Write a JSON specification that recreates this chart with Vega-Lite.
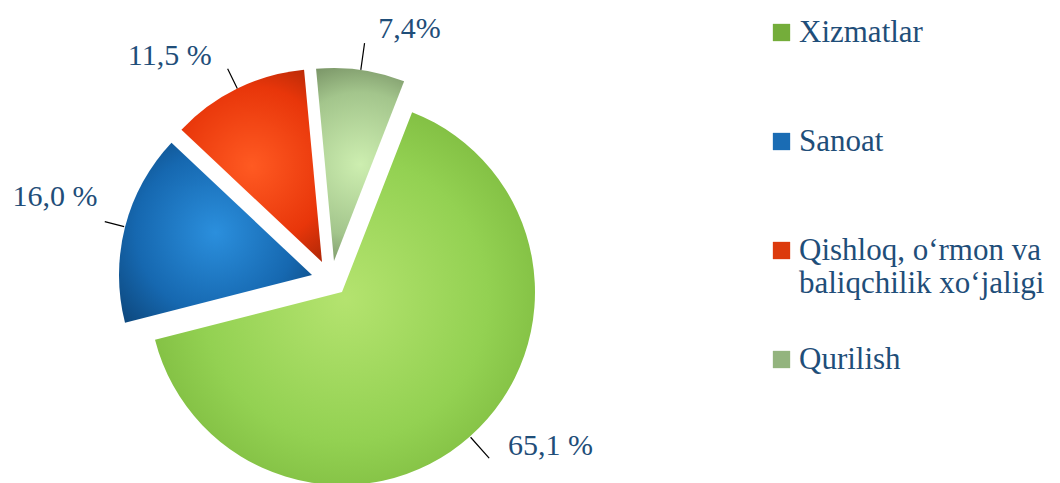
{
  "$schema": "https://vega.github.io/schema/vega-lite/v6.json",
  "autosize": "none",
  "width": 662,
  "height": 366,
  "padding": {"left": 0, "top": 97, "right": 398, "bottom": 20},
  "background": "white",
  "data": {
    "values": [
      {"k": "Xizmatlar", "v": 65.1, "label": "65,1 %"},
      {"k": "Sanoat", "v": 16.0, "label": "16,0 %"},
      {"k": "Qishloq, o‘rmon va baliqchilik  xo‘jaligi", "v": 11.5, "label": "11,5 %"},
      {"k": "Qurilish", "v": 7.4, "label": "7,4%"}
    ]
  },
  "transform": [
    {"window": [{"op": "row_number", "as": "i"}]},
    {"stack": "v", "groupby": [], "sort": [{"field": "i", "order": "ascending"}], "as": ["a0", "a1"]}
  ],
  "config": {"view": {"stroke": null}},
  "layer": [
    {
      "transform": [{"filter": "datum.k === 'Xizmatlar'"}],
      "mark": {"type": "arc", "outerRadius": 193, "xOffset": 11, "yOffset": 12},
      "encoding": {
        "theta": {"field": "a0", "type": "quantitative", "scale": {"domain": [0, 100], "range": [0.3718, 6.6550]}},
        "theta2": {"field": "a1"},
        "fill": {
          "field": "k", "type": "nominal",
          "scale": {"domain": ["Xizmatlar", "Sanoat", "Qishloq, o‘rmon va baliqchilik  xo‘jaligi", "Qurilish"], "range": ["#74ad3a", "#1a6cb4", "#dc3a0c", "#93b47e"]},
          "legend": {
            "title": null, "orient": "none", "legendX": 766, "legendY": -80,
            "symbolType": "square", "symbolSize": 300, "symbolStrokeWidth": 0,
            "labelFont": "Liberation Serif", "labelFontSize": 31, "labelColor": "#1F4E79",
            "labelLimit": 400, "labelOffset": 2, "rowPadding": 44, "padding": 0, "gridAlign": "all",
            "labelExpr": "datum.label === 'Qishloq, o‘rmon va baliqchilik  xo‘jaligi' ? ['Qishloq, o‘rmon va', 'baliqchilik  xo‘jaligi'] : datum.label"
          },
          "condition": {"test": "true", "value": {"gradient": "radial", "x1": 0.5, "y1": 0.5, "r1": 0, "x2": 0.5, "y2": 0.5, "r2": 0.75, "stops": [{"offset": 0, "color": "#b4e36f"}, {"offset": 0.5, "color": "#93d152"}, {"offset": 0.8, "color": "#7bb83d"}, {"offset": 1, "color": "#4a7420"}]}}
        }
      }
    },
    {
      "transform": [{"filter": "datum.k === 'Sanoat'"}],
      "mark": {"type": "arc", "outerRadius": 193, "xOffset": -19, "yOffset": -5},
      "encoding": {
        "theta": {"field": "a0", "type": "quantitative"},
        "theta2": {"field": "a1"},
        "fill": {
          "field": "k", "type": "nominal",
          "condition": {"test": "true", "value": {"gradient": "radial", "x1": 0.5, "y1": 0.5, "r1": 0, "x2": 0.5, "y2": 0.5, "r2": 0.75, "stops": [{"offset": 0, "color": "#2b8fdd"}, {"offset": 0.55, "color": "#1668b0"}, {"offset": 1, "color": "#0a3c6b"}]}}
        }
      }
    },
    {
      "transform": [{"filter": "datum.k === 'Qishloq, o‘rmon va baliqchilik  xo‘jaligi'"}],
      "mark": {"type": "arc", "outerRadius": 193, "xOffset": -9, "yOffset": -18},
      "encoding": {
        "theta": {"field": "a0", "type": "quantitative"},
        "theta2": {"field": "a1"},
        "fill": {
          "field": "k", "type": "nominal",
          "condition": {"test": "true", "value": {"gradient": "radial", "x1": 0.5, "y1": 0.5, "r1": 0, "x2": 0.5, "y2": 0.5, "r2": 0.75, "stops": [{"offset": 0, "color": "#ff5a22"}, {"offset": 0.55, "color": "#e8360a"}, {"offset": 1, "color": "#8a1e04"}]}}
        }
      }
    },
    {
      "transform": [{"filter": "datum.k === 'Qurilish'"}],
      "mark": {"type": "arc", "outerRadius": 193, "xOffset": 3, "yOffset": -19},
      "encoding": {
        "theta": {"field": "a0", "type": "quantitative"},
        "theta2": {"field": "a1"},
        "fill": {
          "field": "k", "type": "nominal",
          "condition": {"test": "true", "value": {"gradient": "radial", "x1": 0.5, "y1": 0.5, "r1": 0, "x2": 0.5, "y2": 0.5, "r2": 0.75, "stops": [{"offset": 0, "color": "#cdeeb0"}, {"offset": 0.5, "color": "#a3c58c"}, {"offset": 1, "color": "#4a5c3c"}]}}
        }
      }
    },
    {
      "transform": [{"filter": "datum.k === 'Xizmatlar'"}],
      "mark": {"type": "arc", "filled": false, "stroke": "#000000", "strokeWidth": 1.2, "radius": 222, "radius2": 194, "padAngle": 3, "thetaOffset": 0.5, "theta2Offset": -0.5, "xOffset": 11, "yOffset": 12},
      "encoding": {"theta": {"field": "a0", "type": "quantitative"}, "theta2": {"field": "a1"}}
    },
    {
      "transform": [{"filter": "datum.k === 'Sanoat'"}],
      "mark": {"type": "arc", "filled": false, "stroke": "#000000", "strokeWidth": 1.2, "radius": 214, "radius2": 194, "padAngle": 3, "xOffset": -19, "yOffset": -5},
      "encoding": {"theta": {"field": "a0", "type": "quantitative"}, "theta2": {"field": "a1"}}
    },
    {
      "transform": [{"filter": "datum.k === 'Qishloq, o‘rmon va baliqchilik  xo‘jaligi'"}],
      "mark": {"type": "arc", "filled": false, "stroke": "#000000", "strokeWidth": 1.2, "radius": 215, "radius2": 193, "padAngle": 3, "xOffset": -9, "yOffset": -18},
      "encoding": {"theta": {"field": "a0", "type": "quantitative"}, "theta2": {"field": "a1"}}
    },
    {
      "transform": [{"filter": "datum.k === 'Qurilish'"}],
      "mark": {"type": "arc", "filled": false, "stroke": "#000000", "strokeWidth": 1.2, "radius": 220, "radius2": 193, "padAngle": 3, "xOffset": 3, "yOffset": -19},
      "encoding": {"theta": {"field": "a0", "type": "quantitative"}, "theta2": {"field": "a1"}}
    },
    {
      "mark": {"type": "text", "radius": 240, "font": "Liberation Serif", "fontSize": 30, "fill": "#1F4E79", "align": "left", "baseline": "middle", "dx": 18, "dy": -14},
      "encoding": {
        "theta": {"field": "v", "type": "quantitative", "stack": true},
        "order": {"field": "i", "type": "quantitative"},
        "text": {"field": "label"},
        "opacity": {"condition": {"test": "datum.k === 'Xizmatlar'", "value": 1}, "value": 0}
      }
    },
    {
      "mark": {"type": "text", "radius": 240, "font": "Liberation Serif", "fontSize": 30, "fill": "#1F4E79", "align": "right", "baseline": "middle", "dx": -1, "dy": -23},
      "encoding": {
        "theta": {"field": "v", "type": "quantitative", "stack": true},
        "order": {"field": "i", "type": "quantitative"},
        "text": {"field": "label"},
        "opacity": {"condition": {"test": "datum.k === 'Sanoat'", "value": 1}, "value": 0}
      }
    },
    {
      "mark": {"type": "text", "radius": 240, "font": "Liberation Serif", "fontSize": 30, "fill": "#1F4E79", "align": "right", "baseline": "middle", "dx": -14, "dy": -8},
      "encoding": {
        "theta": {"field": "v", "type": "quantitative", "stack": true},
        "order": {"field": "i", "type": "quantitative"},
        "text": {"field": "label"},
        "opacity": {"condition": {"test": "datum.k === 'Qishloq, o‘rmon va baliqchilik  xo‘jaligi'", "value": 1}, "value": 0}
      }
    },
    {
      "mark": {"type": "text", "radius": 240, "font": "Liberation Serif", "fontSize": 30, "fill": "#1F4E79", "align": "left", "baseline": "middle", "dx": 14, "dy": -13},
      "encoding": {
        "theta": {"field": "v", "type": "quantitative", "stack": true},
        "order": {"field": "i", "type": "quantitative"},
        "text": {"field": "label"},
        "opacity": {"condition": {"test": "datum.k === 'Qurilish'", "value": 1}, "value": 0}
      }
    }
  ]
}
